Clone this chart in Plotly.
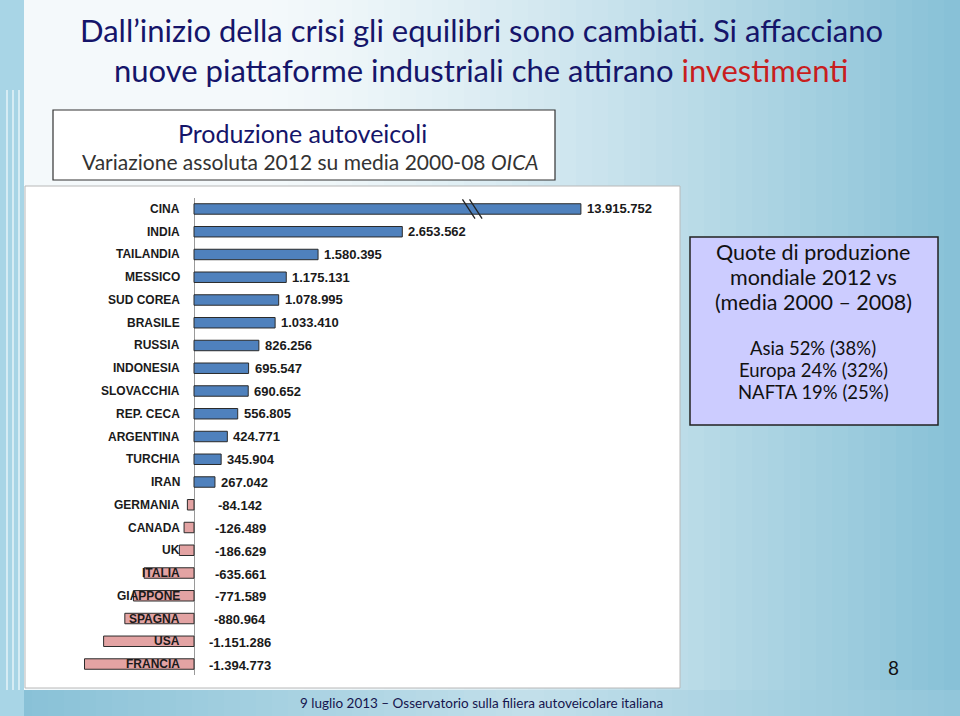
import plotly.graph_objects as go

# ---------------- data ----------------
countries = ["CINA", "INDIA", "TAILANDIA", "MESSICO", "SUD COREA", "BRASILE", "RUSSIA",
             "INDONESIA", "SLOVACCHIA", "REP. CECA", "ARGENTINA", "TURCHIA", "IRAN",
             "GERMANIA", "CANADA", "UK", "ITALIA", "GIAPPONE", "SPAGNA", "USA", "FRANCIA"]
variazione = [13915752, 2653562, 1580395, 1175131, 1078995, 1033410, 826256,
              695547, 690652, 556805, 424771, 345904, 267042,
              -84142, -126489, -186629, -635661, -771589, -880964, -1151286, -1394773]

title_line1 = "Dall\u2019inizio della crisi gli equilibri sono cambiati. Si affacciano"
title_line2a = "nuove piattaforme industriali che attirano "
title_line2b = "investimenti"
box_title = "Produzione autoveicoli"
box_sub = "Variazione assoluta 2012 su media 2000-08 "
box_src = "OICA"
side_lines = ["Quote di produzione", "mondiale 2012 vs", "(media 2000 \u2013 2008)"]
side_values = ["Asia 52% (38%)", "Europa 24% (32%)", "NAFTA 19% (25%)"]
footer = "9 luglio 2013 \u2013 Osservatorio sulla filiera autoveicolare italiana"
page_no = "8"

# broken axis for the very long bar
BREAK_AT = 3.55e6
COMPRESS = 0.133


def disp(v):
    return v if v <= BREAK_AT else BREAK_AT + (v - BREAK_AT) * COMPRESS


def fmt(v):
    return f"{v:,}".replace(",", ".")


W, H = 960, 716
def px(x):
    return x / W
def py(y):
    return 1 - y / H

NAVY = "#15156a"
POS = "#4f81bd"
NEG = "#e3a3a3"
LBLFONT = "Liberation Sans Narrow, Arial Narrow, Liberation Sans, Arial"

xs = [disp(v) for v in variazione]
colors = [POS if v >= 0 else NEG for v in variazione]

fig = go.Figure()
fig.add_trace(go.Bar(
    x=xs, y=countries, orientation="h", width=0.46,
    marker=dict(color=colors, line=dict(color="#2b2b2b", width=1)),
    hoverinfo="skip", showlegend=False,
))

shapes = []
# background gradient
N = 60
def lerp(c1, c2, t):
    return "#%02x%02x%02x" % tuple(int(round(a + (b - a) * t)) for a, b in zip(c1, c2))
light = (244, 249, 251)
blue = (134, 192, 214)
for i in range(N):
    t0 = i / N
    t1 = (i + 1) / N
    xm = (t0 + t1) / 2
    t = max(0.0, (xm - 0.28) / 0.72) ** 1.3
    shapes.append(dict(type="rect", xref="paper", yref="paper", x0=t0, x1=t1 + 0.002,
                       y0=0, y1=1, fillcolor=lerp(light, blue, t), line=dict(width=0),
                       layer="below"))
# bottom band
for i in range(N):
    t0 = i / N
    t1 = (i + 1) / N
    xm = (t0 + t1) / 2
    t = 1 - 0.55 * (1 - abs(xm - 0.55) / 0.55)
    shapes.append(dict(type="rect", xref="paper", yref="paper", x0=t0, x1=t1 + 0.002,
                       y0=0, y1=py(690), fillcolor=lerp(light, blue, max(0, min(1, t))),
                       line=dict(width=0), layer="below"))
# left decorative stripe
shapes.append(dict(type="rect", xref="paper", yref="paper", x0=0, x1=px(24), y0=0, y1=1,
                   fillcolor="#a8d5e6", line=dict(width=0), layer="below"))
for xx in (7, 13, 19):
    shapes.append(dict(type="line", xref="paper", yref="paper", x0=px(xx), x1=px(xx),
                       y0=py(690), y1=py(90), line=dict(color="#e6f3f8", width=1.5),
                       layer="below"))
# chart white panel
shapes.append(dict(type="rect", xref="paper", yref="paper", x0=px(25), x1=px(680),
                   y0=py(688), y1=py(186), fillcolor="white",
                   line=dict(color="#b8b8b8", width=1), layer="below"))
# title box
shapes.append(dict(type="rect", xref="paper", yref="paper", x0=px(53), x1=px(555),
                   y0=py(180), y1=py(110), fillcolor="white",
                   line=dict(color="#333333", width=1.2), layer="below"))
# side box
shapes.append(dict(type="rect", xref="paper", yref="paper", x0=px(690), x1=px(938),
                   y0=py(425), y1=py(237), fillcolor="#ccccff",
                   line=dict(color="#222222", width=1.5), layer="below"))
# break marks on the long bar
for off in (-0.05e6, 0.04e6):
    shapes.append(dict(type="line", xref="x", yref="y",
                       x0=BREAK_AT + off - 0.08e6, x1=BREAK_AT + off + 0.08e6,
                       y0=-0.42, y1=0.42, line=dict(color="#222222", width=1.3)))

ann = []
def pann(text, x, y, size, color, family="Lato"):
    ann.append(dict(text=text, x=px(x), y=py(y), xref="paper", yref="paper",
                    xanchor="center", yanchor="middle", showarrow=False,
                    font=dict(family=family, size=size, color=color)))

# titles
pann(title_line1, 481, 30, 31, NAVY)
pann(title_line2a + f"<span style='color:#c81e1e'>{title_line2b}</span>", 481, 70, 31, NAVY)
pann(box_title, 302, 133, 25, NAVY)
pann(box_sub + f"<i>{box_src}</i>", 310, 161, 21, "#333333")
for i, s in enumerate(side_lines):
    pann(s, 813, 252 + 25 * i, 21.5, "#111111")
for i, s in enumerate(side_values):
    pann(s, 813, 348 + 22 * i, 18.5, "#111111")
pann(page_no, 893, 667, 19, "#111111")
pann(footer, 481, 703, 13.5, "#15154e")

# category labels and value labels
for c, v, d in zip(countries, variazione, xs):
    ann.append(dict(text=f"<b>{c}</b>", x=0, y=c, xref="x", yref="y", xanchor="right",
                    xshift=-12, showarrow=False,
                    font=dict(family=LBLFONT, size=12, color="#1a1a1a")))
    if v >= 0:
        ann.append(dict(text=f"<b>{fmt(v)}</b>", x=d, y=c, xref="x", yref="y",
                        xanchor="left", xshift=4, showarrow=False,
                        font=dict(family=LBLFONT, size=13, color="#1a1a1a")))
    else:
        ann.append(dict(text=f"<b>{fmt(v)}</b>", x=0, y=c, xref="x", yref="y",
                        xanchor="center", xshift=46, yshift=-1, showarrow=False,
                        font=dict(family=LBLFONT, size=13, color="#1a1a1a")))

fig.update_layout(
    width=W, height=H, margin=dict(l=0, r=0, t=0, b=0),
    paper_bgcolor="#eef5f8", plot_bgcolor="rgba(0,0,0,0)",
    shapes=shapes, annotations=ann, bargap=0.5,
    xaxis=dict(domain=[px(76.25), px(680)], range=[-1.5e6, (680 - 194) / 78.5 * 1e6],
               showgrid=False, showticklabels=False, zeroline=True,
               zerolinecolor="#9a9a9a", zerolinewidth=1, fixedrange=True),
    yaxis=dict(domain=[py(675.4), py(197.6)], range=[20.5, -0.5], type="category",
               showgrid=False, showticklabels=False, zeroline=False, fixedrange=True),
)

fig.write_html("out.html")
